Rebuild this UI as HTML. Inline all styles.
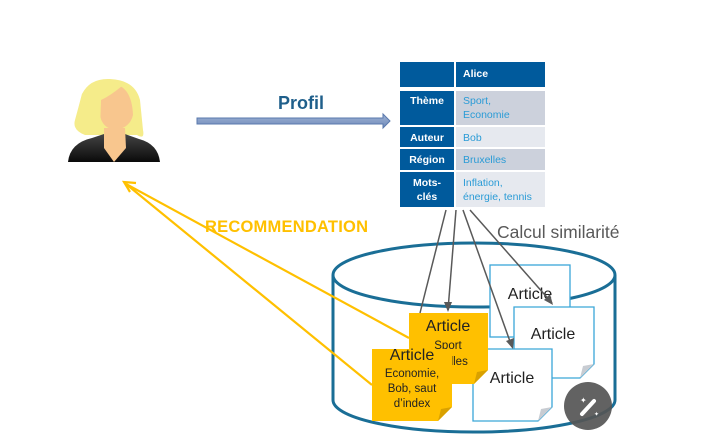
<!DOCTYPE html>
<html><head><meta charset="utf-8"><style>
html,body{margin:0;padding:0;background:#fff;}
svg{display:block;font-family:"Liberation Sans",sans-serif;}
</style></head><body>
<svg width="726" height="439" viewBox="0 0 726 439" xmlns="http://www.w3.org/2000/svg">
<defs>
<linearGradient id="arr" x1="0" y1="0" x2="0" y2="1"><stop offset="0" stop-color="#9fb3d6"/><stop offset="1" stop-color="#6f89b8"/></linearGradient>
<linearGradient id="suit" x1="0" y1="0" x2="0" y2="1"><stop offset="0" stop-color="#444"/><stop offset="1" stop-color="#0a0a0a"/></linearGradient>
</defs>
<!-- person -->
<path d="M82 94 Q90 78 110 79 Q135 80 140 100 L143 130 Q145 140 137 135 L85 135 Q72 130 75 120 Z" fill="#f5ec8a"/>
<path d="M68 162 Q70 143 92 138 L104 134 L125 134 L139 139 Q158 144 160 162 Z" fill="url(#suit)"/>
<path d="M104 128 L104 148 L114 162 L126 148 L125 128 Z" fill="#f8c68e"/>
<path d="M101 98 Q110 88 120 86 Q132 92 133 115 Q130 128 115 130 Q102 128 100 115 Z" fill="#f8c68e"/>
<path d="M82 94 Q92 82 122 86 Q110 96 101 100 L100 130 Q90 128 76 122 Q78 110 82 94 Z" fill="#f5ec8a"/>
<!-- profil arrow -->
<path d="M197 118 L383 118 L383 114 L390 121 L383 128 L383 124 L197 124 Z" fill="url(#arr)" stroke="#5a79ad" stroke-width="1"/>
<text x="278" y="109" font-size="18" font-weight="bold" fill="#1f5f8b">Profil</text>
<!-- table -->
<g font-size="10.5">
<rect x="400" y="62" width="54" height="25" fill="#005a9c"/><rect x="456" y="62" width="89" height="25" fill="#005a9c"/>
<text x="463" y="77" fill="#fff" font-weight="bold">Alice</text>
<rect x="400" y="91" width="54" height="34" fill="#005a9c"/><rect x="456" y="91" width="89" height="34" fill="#ccd1dc"/>
<text x="427" y="104" fill="#fff" font-weight="bold" text-anchor="middle">Thème</text>
<text x="463" y="104" fill="#2a9bd6">Sport,</text><text x="463" y="118" fill="#2a9bd6">Economie</text>
<rect x="400" y="127" width="54" height="20" fill="#005a9c"/><rect x="456" y="127" width="89" height="20" fill="#e6e9ef"/>
<text x="427" y="141" fill="#fff" font-weight="bold" text-anchor="middle">Auteur</text><text x="463" y="141" fill="#2a9bd6">Bob</text>
<rect x="400" y="149" width="54" height="21" fill="#005a9c"/><rect x="456" y="149" width="89" height="21" fill="#ccd1dc"/>
<text x="427" y="163" fill="#fff" font-weight="bold" text-anchor="middle">Région</text><text x="463" y="163" fill="#2a9bd6">Bruxelles</text>
<rect x="400" y="172" width="54" height="35" fill="#005a9c"/><rect x="456" y="172" width="89" height="35" fill="#e6e9ef"/>
<text x="427" y="186" fill="#fff" font-weight="bold" text-anchor="middle">Mots-</text><text x="427" y="200" fill="#fff" font-weight="bold" text-anchor="middle">clés</text>
<text x="463" y="186" fill="#2a9bd6">Inflation,</text><text x="463" y="200" fill="#2a9bd6">énergie, tennis</text>
</g>
<!-- cylinder -->
<path d="M333 275 L333 400 A141 32 0 0 0 615 400 L615 275" fill="#fff" stroke="#1a6e96" stroke-width="3"/>
<ellipse cx="474" cy="275" rx="141" ry="32" fill="none" stroke="#1a6e96" stroke-width="3"/>
<!-- white articles -->
<g font-size="16" fill="#222">
<rect x="490" y="265" width="80" height="72" fill="#fff" stroke="#3aa6d8" stroke-width="1.3"/>
<text x="530" y="299" text-anchor="middle">Article</text>
<path d="M514 307 L594 307 L594 364 L580 378 L514 378 Z" fill="#fff" stroke="#3aa6d8" stroke-width="1.3"/>
<path d="M594 364 L580 378 L583 366 Z" fill="#c8ccd2"/>
<text x="553" y="339" text-anchor="middle">Article</text>
<path d="M473 349 L552 349 L552 407 L538 421 L473 421 Z" fill="#fff" stroke="#3aa6d8" stroke-width="1.3"/>
<path d="M552 407 L538 421 L541 409 Z" fill="#c8ccd2"/>
<text x="512" y="383" text-anchor="middle">Article</text>
<!-- yellow -->
<path d="M409 313 L488 313 L488 370 L474 384 L409 384 Z" fill="#ffc000"/>
<path d="M488 370 L474 384 L477 372 Z" fill="#d9a100"/>
<text x="448" y="331" text-anchor="middle">Article</text>
<text x="448" y="349" text-anchor="middle" font-size="11.5">Sport</text>
<text x="456" y="365" text-anchor="middle" font-size="11.5">elles</text>
<path d="M372 349 L452 349 L452 407 L438 421 L372 421 Z" fill="#ffc000"/>
<path d="M452 407 L438 421 L441 409 Z" fill="#d9a100"/>
<text x="412" y="360" text-anchor="middle">Article</text>
<text x="412" y="377" text-anchor="middle" font-size="11.5">Economie,</text>
<text x="412" y="392" text-anchor="middle" font-size="11.5">Bob, saut</text>
<text x="412" y="407" text-anchor="middle" font-size="11.5">d’index</text>
</g>
<!-- gray connectors -->
<g stroke="#595959" stroke-width="1.5" fill="none">
<line x1="446" y1="210" x2="420" y2="313"/>
<line x1="456" y1="210" x2="448" y2="310"/>
<line x1="463" y1="210" x2="512" y2="347"/>
<line x1="470" y1="210" x2="552" y2="303"/>
</g>
<g fill="#595959">
<path d="M448 312 L444 302 L452 302 Z"/>
<path d="M513 349 L506 341 L514 338 Z"/>
<path d="M553 305 L544 300 L550 294 Z"/>
</g>
<text x="497" y="238" font-size="17.5" fill="#595959">Calcul similarité</text>
<!-- recommendation -->
<g stroke="#ffc000" stroke-width="2.2" fill="none">
<line x1="126" y1="184" x2="409" y2="338"/>
<line x1="126" y1="184" x2="372" y2="385"/>
<path d="M136 183 L124 182 L130 192"/>
</g>
<text x="205" y="232" font-size="16.5" font-weight="bold" fill="#ffc000" textLength="163">RECOMMENDATION</text>
<!-- magic button -->
<circle cx="588" cy="406" r="24" fill="#555" opacity="0.92"/>
<path d="M582 414 L594 401" stroke="#fff" stroke-width="4" stroke-linecap="round"/>
<text x="580" y="403" font-size="8" fill="#fff">✦</text><text x="594" y="416" font-size="6" fill="#fff">✦</text>
</svg>
</body></html>
